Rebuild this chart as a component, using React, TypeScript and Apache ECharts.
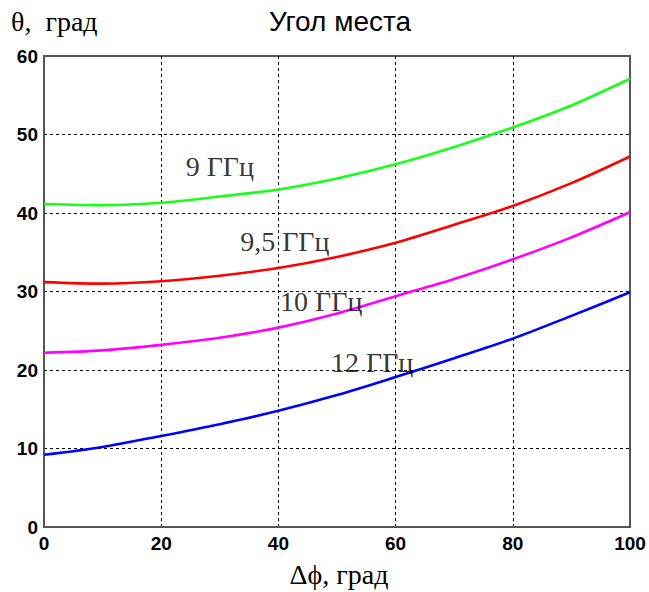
import React, { useEffect, useRef } from "react";
import * as echarts from "echarts";

const xValues = [0, 10, 20, 30, 40, 50, 60, 70, 80, 90, 100];
const ghz9 = [41.15, 41.0, 41.3, 42.1, 43.0, 44.4, 46.2, 48.4, 50.9, 53.7, 57.1];
const ghz95 = [31.2, 31.0, 31.3, 32.0, 33.0, 34.4, 36.2, 38.5, 40.9, 43.8, 47.2];
const ghz10 = [22.2, 22.5, 23.2, 24.1, 25.4, 27.2, 29.4, 31.6, 34.1, 36.9, 40.1];
const ghz12 = [9.2, 10.2, 11.6, 13.1, 14.8, 16.8, 19.1, 21.5, 24.0, 26.9, 29.9];

const seriesNames = ["9 ГГц", "9,5 ГГц", "10 ГГц", "12 ГГц"];
const seriesColors = ["#19ff19", "#ff0000", "#ff00ff", "#0000ff"];
const labelX = [30.0, 41.1, 47.3, 56.0];
const labelY = [45.9, 36.4, 28.7, 21.0];

const titleText = "Угол места";
const yAxisTitle = "θ,  град";
const xAxisTitle = "Δϕ, град";

export default function App() {
  const ref = useRef<HTMLDivElement>(null);
  useEffect(() => {
    if (!ref.current) return;
    const chart = echarts.init(ref.current, null, { renderer: "svg" });
    const all = [ghz9, ghz95, ghz10, ghz12];
    const lineSeries = all.map((arr, i) => ({
      type: "line",
      name: seriesNames[i],
      smooth: 0.3,
      showSymbol: false,
      symbol: "none",
      data: xValues.map((x, j) => [x, arr[j]]),
      lineStyle: { color: seriesColors[i], width: 2.6 },
      itemStyle: { color: seriesColors[i] },
      z: 3,
    }));
    const serif = "'Liberation Serif', 'Times New Roman', serif";
    chart.setOption({
      animation: false,
      backgroundColor: "#ffffff",
      grid: {
        left: 44,
        right: 19,
        top: 56,
        bottom: 65,
        show: true,
        borderColor: "#555555",
        borderWidth: 2,
        backgroundColor: "transparent",
      },
      xAxis: {
        type: "value",
        min: 0,
        max: 100,
        interval: 20,
        axisLine: { show: true, lineStyle: { color: "#555555", width: 2 } },
        axisTick: { show: false },
        axisLabel: {
          color: "#000",
          fontFamily: "'Liberation Sans', Arial, sans-serif",
          fontWeight: "bold",
          fontSize: 19,
          margin: 7,
        },
        splitLine: {
          show: true,
          showMinLine: false,
          showMaxLine: false,
          lineStyle: { color: "#000", type: [3, 3], width: 1 },
        },
      },
      yAxis: {
        type: "value",
        min: 0,
        max: 60,
        interval: 10,
        axisLine: { show: true, lineStyle: { color: "#555555", width: 2 } },
        axisTick: { show: false },
        axisLabel: {
          color: "#000",
          fontFamily: "'Liberation Sans', Arial, sans-serif",
          fontWeight: "bold",
          fontSize: 19,
          margin: 6,
        },
        splitLine: {
          show: true,
          showMinLine: false,
          showMaxLine: false,
          lineStyle: { color: "#000", type: [3, 3], width: 1 },
        },
      },
      series: [
        ...lineSeries,
        {
          type: "scatter",
          symbol: "circle",
          symbolSize: 1,
          itemStyle: { color: "transparent" },
          z: 5,
          data: seriesNames.map((n, i) => ({ name: n, value: [labelX[i], labelY[i]] })),
          label: {
            show: true,
            position: "inside",
            formatter: (p: any) => p.name,
            color: "#000",
            textBorderWidth: 0,
            fontFamily: serif,
            fontSize: 28,
          },
        },
      ],
      graphic: [
        {
          type: "text",
          x: 340,
          y: 21,
          style: {
            text: titleText,
            fill: "#000",
            font: "28px 'Liberation Sans', Arial, sans-serif",
            textAlign: "center",
            textVerticalAlign: "middle",
          },
        },
        {
          type: "text",
          x: 11,
          y: 21,
          style: {
            text: yAxisTitle,
            fill: "#000",
            font: "28px " + serif,
            textAlign: "left",
            textVerticalAlign: "middle",
          },
        },
        {
          type: "text",
          x: 339,
          y: 574,
          style: {
            text: xAxisTitle,
            fill: "#000",
            font: "28px " + serif,
            textAlign: "center",
            textVerticalAlign: "middle",
          },
        },
      ],
    });
    return () => chart.dispose();
  }, []);
  return <div ref={ref} style={{ width: 649, height: 592, position: "absolute", left: 0, top: 0 }} />;
}
